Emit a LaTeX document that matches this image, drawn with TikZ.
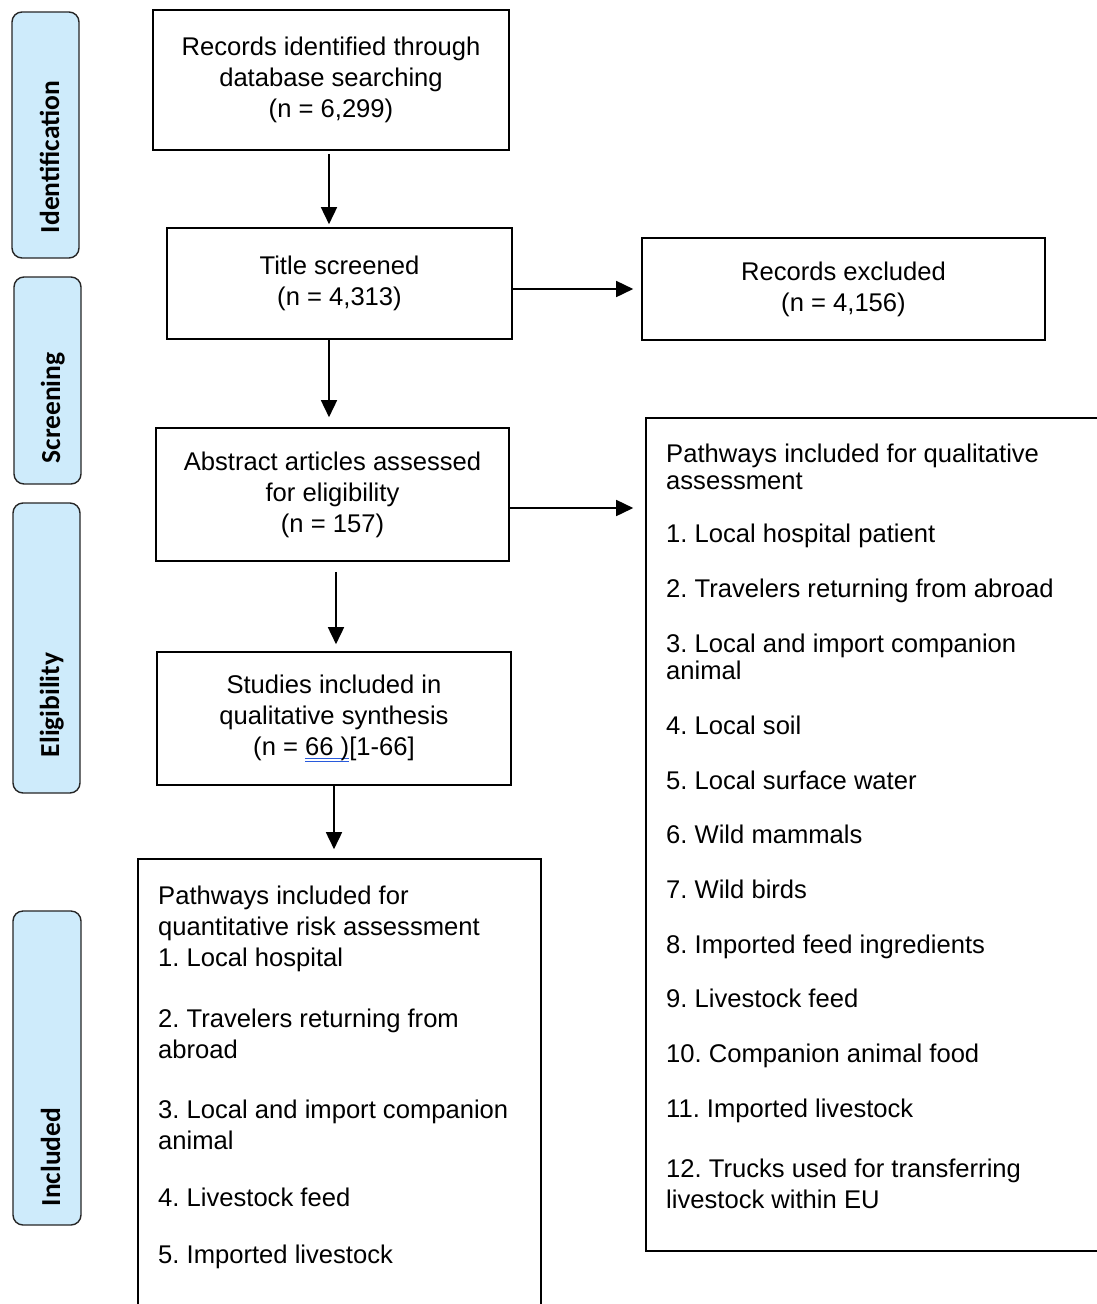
\documentclass[tikz,border=0pt]{standalone}
\usepackage{fontspec}
\setmainfont{Liberation Sans}
\newfontfamily\stagefont{Carlito}
\usetikzlibrary{arrows.meta,calc}
\frenchspacing

\definecolor{stageblue}{RGB}{206,235,251}
\definecolor{ulblue}{RGB}{40,90,220}

% blue double underline under a piece of text
\newcommand\blueul[1]{\setbox0\hbox{#1}%
  \rlap{\color{ulblue}\rule[-3.2pt]{\wd0}{0.9pt}}%
  \rlap{\color{ulblue}\rule[-5.8pt]{\wd0}{0.9pt}}\box0}

\tikzset{
  box/.style={draw=black, line width=1.6pt, inner sep=0pt, align=center,
    font=\fontsize{25.6}{31}\selectfont},
  stage/.style={draw=black!85, line width=1.4pt, fill=stageblue,
    rounded corners=10pt, inner sep=0pt},
  stagetext/.style={rotate=90, anchor=base, inner sep=0pt,
    font=\stagefont\bfseries\fontsize{27.5}{30}\selectfont},
  arr/.style={line width=1.6pt, -{Triangle[length=17pt,width=16pt]}},
  item/.style={anchor=base west, inner sep=0pt,
    font=\fontsize{25.6}{31}\selectfont},
}

\begin{document}
\begin{tikzpicture}[x=1pt,y=-1pt]
\clip (0,0) rectangle (1097,1304);
\fill[white] (0,0) rectangle (1097,1304);

% stage labels on the left
\node[stage, minimum width=67pt, minimum height=246pt] (sid) at (45.5,135) {};
\node[stagetext] (tid) at (59,157) {Identification};
\node[stage, minimum width=67pt, minimum height=207pt] (ssc) at (47.5,380.5) {};
\node[stagetext] (tsc) at (60,408) {Screening};
\node[stage, minimum width=67pt, minimum height=290pt] (sel) at (46.5,648) {};
\node[stagetext] (tel) at (59,705) {Eligibility};
\node[stage, minimum width=68pt, minimum height=314pt] (sin) at (47,1068) {};
\node[stagetext] (tin) at (60,1157) {Included};

% flow boxes
\node[box, minimum width=356pt, minimum height=140pt] (b1) at (331,80)
  {Records identified through\\database searching\\(n = 6,299)};
\node[box, minimum width=345pt, minimum height=111pt] (b2) at (339.5,283.5)
  {Title screened\\(n = 4,313)};
\node[box, minimum width=403pt, minimum height=102pt] (b3) at (843.5,289)
  {Records excluded\\(n = 4,156)};
\node[box, minimum width=353pt, minimum height=133pt] (b4) at (332.5,494.5)
  {Abstract articles assessed\\for eligibility\\(n = 157)};
\node[box, minimum width=354pt, minimum height=133pt] (b5) at (334,718.5)
  {Studies included in\\qualitative synthesis\\(n = \blueul{66 )}[1-66]};
\node[box, minimum width=403pt, minimum height=461pt] (b6) at (339.5,1089.5) {};
\node[box, minimum width=464pt, minimum height=833pt] (b7) at (878,834.5) {};

% list of pathways for the quantitative assessment
\foreach \yy/\tx [count=\i] in {
  904/Pathways included for,
  935/quantitative risk assessment,
  966/1. Local hospital,
  1027/2. Travelers returning from,
  1058/abroad,
  1118/3. Local and import companion,
  1149/animal,
  1206/4. Livestock feed,
  1263/5. Imported livestock}
  \node[item] (q\i) at (158,\yy) {\tx};

% list of pathways for the qualitative assessment
\foreach \yy/\tx [count=\i] in {
  462/Pathways included for qualitative,
  489/assessment,
  542/1. Local hospital patient,
  597/2. Travelers returning from abroad,
  652/3. Local and import companion,
  679/animal,
  734/4. Local soil,
  789/5. Local surface water,
  843/6. Wild mammals,
  898/7. Wild birds,
  953/8. Imported feed ingredients,
  1007/9. Livestock feed,
  1062/10. Companion animal food,
  1117/11. Imported livestock,
  1177/12. Trucks used for transferring,
  1208/livestock within EU}
  \node[item] (p\i) at (666,\yy) {\tx};

% connectors
\draw[arr, shorten <=3pt, shorten >=3pt]
  ($(b1.south)+(-2,0)$) -- ($(b2.north -| b1.south)+(-2,0)$);
\draw[arr, shorten >=8pt] (b2.east |- b3.west) -- (b3.west);
\draw[arr, shorten >=10pt]
  ($(b2.south)+(-10.5,0)$) -- ($(b4.north -| b2.south)+(-10.5,0)$);
\draw[arr, shorten >=12pt]
  ($(b4.east)+(0,13.5)$) -- ($(b7.west |- b4.east)+(0,13.5)$);
\draw[arr, shorten <=10pt, shorten >=7pt]
  ($(b4.south)+(3.5,0)$) -- ($(b5.north -| b4.south)+(3.5,0)$);
\draw[arr, shorten >=9pt] (b5.south) -- (b6.north -| b5.south);
\end{tikzpicture}
\end{document}
